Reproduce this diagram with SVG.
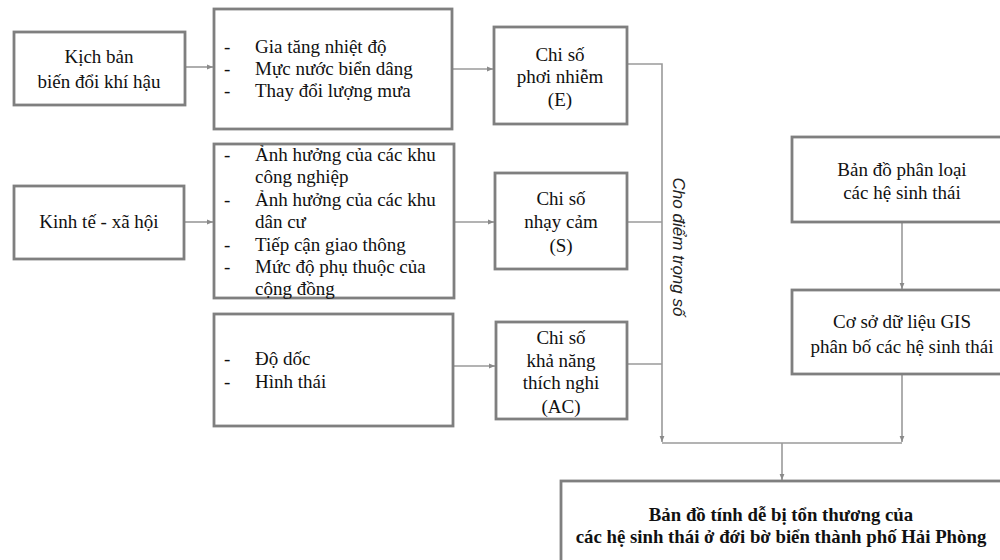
<svg xmlns="http://www.w3.org/2000/svg" width="1000" height="560" viewBox="0 0 1000 560">
<style>
.box{fill:#fff;stroke:#7f7f7f;stroke-width:2.8}
.t{font-family:"Liberation Serif","Times New Roman",serif;font-size:19px;fill:#111}
.c{text-anchor:middle}
.b{font-weight:bold;font-size:18.8px}
.lbl{font-family:"Liberation Sans",Arial,sans-serif;font-style:italic;font-size:17px;fill:#222}
.con{fill:none;stroke:#9a9a9a;stroke-width:1.6}
</style>
<defs>
<marker id="ah" viewBox="0 0 10 10" refX="10" refY="5" markerWidth="6" markerHeight="6" orient="auto" markerUnits="userSpaceOnUse">
<path d="M0,1 L10,5 L0,9 Z" fill="#8a8a8a"/>
</marker>
</defs>
<rect width="1000" height="560" fill="#fff"/>
<g id="connectors">
<line class="con" x1="185" y1="67" x2="213" y2="67" marker-end="url(#ah)"/>
<line class="con" x1="452" y1="69" x2="493" y2="69" marker-end="url(#ah)"/>
<line class="con" x1="184" y1="222" x2="213" y2="222" marker-end="url(#ah)"/>
<line class="con" x1="454" y1="222" x2="494" y2="222" marker-end="url(#ah)"/>
<line class="con" x1="453" y1="366" x2="495" y2="366" marker-end="url(#ah)"/>
<polyline class="con" points="627,64 662,64 662,442" marker-end="url(#ah)"/>
<line class="con" x1="627" y1="222" x2="662" y2="222"/>
<line class="con" x1="627" y1="364" x2="662" y2="364"/>
<line class="con" x1="902" y1="222" x2="902" y2="289" marker-end="url(#ah)"/>
<line class="con" x1="902" y1="374" x2="902" y2="442" marker-end="url(#ah)"/>
<line class="con" x1="662" y1="443" x2="902" y2="443"/>
<line class="con" x1="782" y1="443" x2="782" y2="480" marker-end="url(#ah)"/>
<text class="lbl" transform="translate(673,247) rotate(90)" text-anchor="middle">Cho điểm trọng số</text>
</g>
<g id="kich-ban">
<rect class="box" x="14" y="32" width="171" height="73"/>
<text class="t c" x="99" y="63">Kịch bản</text>
<text class="t c" x="99" y="88">biến đổi khí hậu</text>
</g>
<g id="khi-hau-list">
<rect class="box" x="214" y="9" width="238" height="120"/>
<text class="t"><tspan x="224" y="53">-</tspan><tspan x="255" y="53">Gia tăng nhiệt độ</tspan><tspan x="224" y="75">-</tspan><tspan x="255" y="75">Mực nước biển dâng</tspan><tspan x="224" y="97">-</tspan><tspan x="255" y="97">Thay đổi lượng mưa</tspan></text>
</g>
<g id="chi-so-E">
<rect class="box" x="494" y="27" width="133" height="97"/>
<text class="t c" x="560" y="61">Chi số</text>
<text class="t c" x="560" y="83">phơi nhiễm</text>
<text class="t c" x="560" y="106">(E)</text>
</g>
<g id="kinh-te">
<rect class="box" x="14" y="186" width="170" height="73"/>
<text class="t c" x="99" y="228">Kinh tế - xã hội</text>
</g>
<g id="kinh-te-list">
<rect class="box" x="214" y="144" width="240" height="154"/>
<text class="t"><tspan x="224" y="161">-</tspan><tspan x="255" y="161">Ảnh hưởng của các khu</tspan><tspan x="255" y="183">công nghiệp</tspan><tspan x="224" y="206">-</tspan><tspan x="255" y="206">Ảnh hưởng của các khu</tspan><tspan x="255" y="228">dân cư</tspan><tspan x="224" y="251">-</tspan><tspan x="255" y="251">Tiếp cận giao thông</tspan><tspan x="224" y="273">-</tspan><tspan x="255" y="273">Mức độ phụ thuộc của</tspan><tspan x="255" y="295">cộng đồng</tspan></text>
</g>
<g id="chi-so-S">
<rect class="box" x="495" y="173" width="132" height="96"/>
<text class="t c" x="561" y="205">Chi số</text>
<text class="t c" x="561" y="228">nhạy cảm</text>
<text class="t c" x="561" y="252">(S)</text>
</g>
<g id="dia-hinh-list">
<rect class="box" x="214" y="314" width="239" height="112"/>
<text class="t"><tspan x="224" y="365">-</tspan><tspan x="255" y="365">Độ dốc</tspan><tspan x="224" y="388">-</tspan><tspan x="255" y="388">Hình thái</tspan></text>
</g>
<g id="chi-so-AC">
<rect class="box" x="496" y="322" width="131" height="97"/>
<text class="t c" x="561" y="344">Chi số</text>
<text class="t c" x="561" y="367">khả năng</text>
<text class="t c" x="561" y="389">thích nghi</text>
<text class="t c" x="561" y="413">(AC)</text>
</g>
<g id="ban-do-phan-loai">
<rect class="box" x="792" y="137" width="220" height="85"/>
<text class="t c" x="902" y="176">Bản đồ phân loại</text>
<text class="t c" x="902" y="199">các hệ sinh thái</text>
</g>
<g id="gis">
<rect class="box" x="792" y="290" width="220" height="84"/>
<text class="t c" x="902" y="328">Cơ sở dữ liệu GIS</text>
<text class="t c" x="902" y="353">phân bố các hệ sinh thái</text>
</g>
<g id="ban-do-ket-qua">
<rect class="box" x="561" y="481" width="451" height="90"/>
<text class="t c b" x="781" y="521">Bản đồ tính dễ bị tổn thương của</text>
<text class="t c b" x="781" y="543">các hệ sinh thái ở đới bờ biển thành phố Hải Phòng</text>
</g>
</svg>
